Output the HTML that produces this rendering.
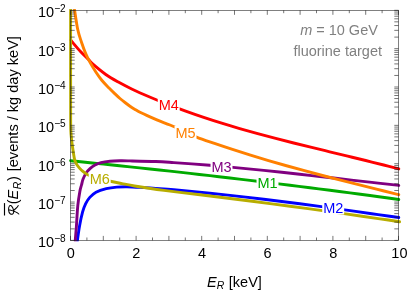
<!DOCTYPE html>
<html><head><meta charset="utf-8"><style>
html,body{margin:0;padding:0;background:#fff;}
body{width:407px;height:290px;overflow:hidden;position:relative;font-family:"Liberation Sans",sans-serif;}
svg text{font-family:"Liberation Sans",sans-serif;}
</style></head><body>
<svg width="407" height="290" viewBox="0 0 407 290" style="position:absolute;left:0;top:0;will-change:transform">
<rect x="0" y="0" width="407" height="290" fill="#ffffff"/>
<path d="M70.60 160.70 C73.83 161.03 83.43 162.03 90.00 162.70 C96.57 163.38 103.33 164.06 110.00 164.75 C116.67 165.44 123.33 166.14 130.00 166.84 C136.67 167.55 143.33 168.26 150.00 168.98 C156.67 169.70 163.33 170.43 170.00 171.16 C176.67 171.90 183.33 172.64 190.00 173.40 C196.67 174.15 203.33 174.91 210.00 175.67 C216.67 176.44 223.33 177.21 230.00 178.00 C236.67 178.78 243.33 179.57 250.00 180.36 C256.67 181.16 263.33 181.97 270.00 182.78 C276.67 183.59 283.33 184.41 290.00 185.24 C296.67 186.07 303.33 186.90 310.00 187.75 C316.67 188.59 323.33 189.44 330.00 190.30 C336.67 191.16 343.33 192.03 350.00 192.90 C356.67 193.77 363.33 194.66 370.00 195.55 C376.67 196.43 385.20 197.58 390.00 198.24 C394.80 198.89 397.33 199.26 398.80 199.46" fill="none" stroke="#00aa00" stroke-width="2.90" stroke-linecap="round" stroke-linejoin="round"/>
<path d="M77.30 241.20 C77.67 238.72 78.62 231.18 79.50 226.30 C80.38 221.42 81.57 215.68 82.60 211.90 C83.63 208.12 84.50 206.02 85.70 203.60 C86.90 201.18 88.08 199.30 89.80 197.40 C91.52 195.50 93.25 193.65 96.00 192.20 C98.75 190.75 102.85 189.55 106.30 188.70 C109.75 187.85 113.25 187.43 116.70 187.10 C120.15 186.77 122.37 186.62 127.00 186.70 C131.63 186.78 139.70 187.33 144.50 187.60 C149.30 187.87 150.92 187.98 155.80 188.35 C160.68 188.72 167.80 189.30 173.80 189.81 C179.80 190.32 185.80 190.87 191.80 191.43 C197.80 191.99 203.80 192.58 209.80 193.19 C215.80 193.81 221.80 194.44 227.80 195.09 C233.80 195.75 239.80 196.42 245.80 197.11 C251.80 197.81 257.80 198.52 263.80 199.25 C269.80 199.97 275.80 200.72 281.80 201.47 C287.80 202.23 293.80 203.01 299.80 203.79 C305.80 204.58 311.80 205.37 317.80 206.18 C323.80 206.99 329.80 207.81 335.80 208.64 C341.80 209.46 347.80 210.30 353.80 211.14 C359.80 211.98 365.80 212.83 371.80 213.69 C377.80 214.54 385.30 215.62 389.80 216.26 C394.30 216.90 397.30 217.34 398.80 217.55" fill="none" stroke="#0000ff" stroke-width="2.90" stroke-linecap="round" stroke-linejoin="round"/>
<path d="M75.20 241.20 C75.40 238.72 75.97 232.22 76.40 226.30 C76.83 220.38 77.22 211.55 77.80 205.70 C78.38 199.85 79.28 194.65 79.90 191.20 C80.52 187.75 80.98 186.98 81.50 185.00 C82.02 183.02 82.25 181.27 83.00 179.30 C83.75 177.33 84.83 174.98 86.00 173.20 C87.17 171.42 88.50 169.97 90.00 168.60 C91.50 167.23 93.17 166.00 95.00 165.00 C96.83 164.00 98.50 163.23 101.00 162.60 C103.50 161.97 106.83 161.50 110.00 161.20 C113.17 160.90 116.67 160.85 120.00 160.80 C123.33 160.75 124.03 160.78 130.00 160.90 C135.97 161.02 148.50 161.25 155.80 161.54 C163.10 161.82 167.80 162.23 173.80 162.62 C179.80 163.01 185.80 163.43 191.80 163.88 C197.80 164.33 203.80 164.81 209.80 165.31 C215.80 165.81 221.80 166.33 227.80 166.88 C233.80 167.42 239.80 167.99 245.80 168.57 C251.80 169.16 257.80 169.76 263.80 170.38 C269.80 170.99 275.80 171.63 281.80 172.27 C287.80 172.91 293.80 173.57 299.80 174.23 C305.80 174.89 311.80 175.57 317.80 176.24 C323.80 176.92 329.80 177.60 335.80 178.29 C341.80 178.97 347.80 179.66 353.80 180.35 C359.80 181.03 365.80 181.72 371.80 182.40 C377.80 183.08 385.30 183.92 389.80 184.43 C394.30 184.93 397.30 185.26 398.80 185.43" fill="none" stroke="#800080" stroke-width="2.90" stroke-linecap="round" stroke-linejoin="round"/>
<path d="M70.90 40.20 C71.12 40.48 70.60 40.02 72.20 41.90 C73.80 43.78 77.73 48.52 80.50 51.50 C83.27 54.48 86.73 57.68 88.80 59.80 C90.87 61.92 90.07 61.75 92.90 64.20 C95.73 66.65 101.48 71.48 105.80 74.50 C110.12 77.52 114.48 79.89 118.80 82.30 C123.12 84.71 126.55 86.51 131.70 88.96 C136.85 91.41 143.70 94.43 149.70 97.00 C155.70 99.57 161.70 102.02 167.70 104.38 C173.70 106.74 179.70 108.99 185.70 111.16 C191.70 113.34 197.70 115.41 203.70 117.42 C209.70 119.43 215.70 121.35 221.70 123.21 C227.70 125.07 233.70 126.86 239.70 128.60 C245.70 130.34 251.70 132.01 257.70 133.65 C263.70 135.29 269.70 136.88 275.70 138.43 C281.70 139.99 287.70 141.51 293.70 143.01 C299.70 144.51 305.70 145.98 311.70 147.44 C317.70 148.91 323.70 150.35 329.70 151.80 C335.70 153.24 341.70 154.68 347.70 156.13 C353.70 157.59 359.70 159.04 365.70 160.52 C371.70 162.01 378.18 163.63 383.70 165.03 C389.22 166.43 396.28 168.29 398.80 168.94" fill="none" stroke="#ff0000" stroke-width="2.90" stroke-linecap="round" stroke-linejoin="round"/>
<path d="M74.50 9.60 C75.05 12.97 76.63 24.37 77.80 29.80 C78.97 35.23 80.18 38.23 81.50 42.20 C82.82 46.17 84.23 50.15 85.70 53.60 C87.17 57.05 88.58 59.80 90.30 62.90 C92.02 66.00 94.05 69.27 96.00 72.20 C97.95 75.13 99.87 77.90 102.00 80.50 C104.13 83.10 106.63 85.57 108.80 87.80 C110.97 90.03 113.13 92.12 115.00 93.90 C116.87 95.68 118.33 97.07 120.00 98.50 C121.67 99.93 123.33 101.22 125.00 102.50 C126.67 103.78 128.33 105.05 130.00 106.20 C131.67 107.35 133.33 108.38 135.00 109.40 C136.67 110.42 137.50 111.05 140.00 112.30 C142.50 113.55 146.67 115.42 150.00 116.90 C153.33 118.38 156.67 119.85 160.00 121.20 C163.33 122.55 165.83 123.28 170.00 125.00 C174.17 126.72 180.58 129.49 185.00 131.50 C189.42 133.51 191.58 135.09 196.50 137.09 C201.42 139.08 208.50 141.40 214.50 143.46 C220.50 145.53 226.50 147.53 232.50 149.48 C238.50 151.43 244.50 153.32 250.50 155.17 C256.50 157.02 262.50 158.82 268.50 160.58 C274.50 162.34 280.50 164.06 286.50 165.74 C292.50 167.43 298.50 169.07 304.50 170.70 C310.50 172.32 316.50 173.91 322.50 175.48 C328.50 177.05 334.50 178.59 340.50 180.12 C346.50 181.65 352.50 183.16 358.50 184.66 C364.50 186.17 370.50 187.66 376.50 189.15 C382.50 190.64 390.78 192.68 394.50 193.60 C398.22 194.52 398.08 194.49 398.80 194.67" fill="none" stroke="#ff8000" stroke-width="2.90" stroke-linecap="round" stroke-linejoin="round"/>
<path d="M70.60 9.20 C70.60 17.67 70.59 43.20 70.60 60.00 C70.61 76.80 70.62 98.33 70.65 110.00 C70.68 121.67 70.64 125.00 70.80 130.00 C70.96 135.00 71.23 136.67 71.60 140.00 C71.97 143.33 72.45 146.55 73.00 150.00 C73.55 153.45 74.07 157.98 74.90 160.70 C75.73 163.42 76.93 164.75 78.00 166.30 C79.07 167.85 79.67 168.60 81.30 170.00 C82.93 171.40 84.85 173.27 87.80 174.70 C90.75 176.13 95.03 177.47 99.00 178.60 C102.97 179.73 107.77 180.67 111.60 181.50 C115.43 182.33 118.18 182.85 122.00 183.60 C125.82 184.35 130.00 185.22 134.50 186.00 C139.00 186.78 144.08 187.57 149.00 188.30 C153.92 189.03 158.50 189.69 164.00 190.41 C169.50 191.12 176.00 191.84 182.00 192.57 C188.00 193.29 194.00 194.02 200.00 194.76 C206.00 195.49 212.00 196.23 218.00 196.98 C224.00 197.72 230.00 198.47 236.00 199.23 C242.00 199.99 248.00 200.75 254.00 201.52 C260.00 202.29 266.00 203.06 272.00 203.85 C278.00 204.63 284.00 205.42 290.00 206.22 C296.00 207.02 302.00 207.82 308.00 208.63 C314.00 209.45 320.00 210.27 326.00 211.10 C332.00 211.93 338.00 212.77 344.00 213.62 C350.00 214.46 356.00 215.32 362.00 216.19 C368.00 217.06 374.00 217.93 380.00 218.82 C386.00 219.71 394.87 221.04 398.00 221.51 C401.13 221.98 398.67 221.61 398.80 221.63" fill="none" stroke="#b8ad00" stroke-width="2.90" stroke-linecap="round" stroke-linejoin="round"/>
<rect x="256.53" y="175.60" width="21.94" height="13.50" fill="#ffffff"/>
<text transform="translate(267.50 187.60) scale(1 1.04)" text-anchor="middle" font-size="14.50" fill="#00aa00">M1</text>
<rect x="322.23" y="201.00" width="21.94" height="13.50" fill="#ffffff"/>
<text transform="translate(333.20 213.00) scale(1 1.04)" text-anchor="middle" font-size="14.50" fill="#0000ff">M2</text>
<rect x="210.53" y="160.00" width="21.94" height="13.50" fill="#ffffff"/>
<text transform="translate(221.50 172.00) scale(1 1.04)" text-anchor="middle" font-size="14.50" fill="#800080">M3</text>
<rect x="157.73" y="97.90" width="21.94" height="13.50" fill="#ffffff"/>
<text transform="translate(168.70 109.90) scale(1 1.04)" text-anchor="middle" font-size="14.50" fill="#ff0000">M4</text>
<rect x="174.53" y="126.00" width="21.94" height="13.50" fill="#ffffff"/>
<text transform="translate(185.50 138.00) scale(1 1.04)" text-anchor="middle" font-size="14.50" fill="#ff8000">M5</text>
<rect x="88.73" y="172.00" width="21.94" height="13.50" fill="#ffffff"/>
<text transform="translate(99.70 184.00) scale(1 1.04)" text-anchor="middle" font-size="14.50" fill="#b8ad00">M6</text>
<rect x="0" y="241.30" width="407" height="60" fill="#fff"/>
<rect x="0" y="0" width="407" height="9.10" fill="#fff"/>
<rect x="70.50" y="10.30" width="328.00" height="230.10" fill="none" stroke="#1a1a1a" stroke-width="0.55"/>
<path d="M70.50 240.40v-4.50 M70.50 10.30v4.50 M86.90 240.40v-2.90 M86.90 10.30v2.90 M103.30 240.40v-4.50 M103.30 10.30v4.50 M119.70 240.40v-2.90 M119.70 10.30v2.90 M136.10 240.40v-4.50 M136.10 10.30v4.50 M152.50 240.40v-2.90 M152.50 10.30v2.90 M168.90 240.40v-4.50 M168.90 10.30v4.50 M185.30 240.40v-2.90 M185.30 10.30v2.90 M201.70 240.40v-4.50 M201.70 10.30v4.50 M218.10 240.40v-2.90 M218.10 10.30v2.90 M234.50 240.40v-4.50 M234.50 10.30v4.50 M250.90 240.40v-2.90 M250.90 10.30v2.90 M267.30 240.40v-4.50 M267.30 10.30v4.50 M283.70 240.40v-2.90 M283.70 10.30v2.90 M300.10 240.40v-4.50 M300.10 10.30v4.50 M316.50 240.40v-2.90 M316.50 10.30v2.90 M332.90 240.40v-4.50 M332.90 10.30v4.50 M349.30 240.40v-2.90 M349.30 10.30v2.90 M365.70 240.40v-4.50 M365.70 10.30v4.50 M382.10 240.40v-2.90 M382.10 10.30v2.90 M398.50 240.40v-4.50 M398.50 10.30v4.50" stroke="#1a1a1a" stroke-width="0.6" fill="none"/>
<path d="M70.50 10.30h4.2 M398.50 10.30h-4.2 M70.50 48.65h4.2 M398.50 48.65h-4.2 M70.50 87.00h4.2 M398.50 87.00h-4.2 M70.50 125.35h4.2 M398.50 125.35h-4.2 M70.50 163.70h4.2 M398.50 163.70h-4.2 M70.50 202.05h4.2 M398.50 202.05h-4.2 M70.50 240.40h4.2 M398.50 240.40h-4.2" stroke="#1a1a1a" stroke-width="0.6" fill="none"/>
<path d="M70.50 37.11h4.2 M398.50 37.11h-4.2 M70.50 30.35h4.2 M398.50 30.35h-4.2 M70.50 25.56h4.2 M398.50 25.56h-4.2 M70.50 21.84h4.2 M398.50 21.84h-4.2 M70.50 18.81h4.2 M398.50 18.81h-4.2 M70.50 16.24h4.2 M398.50 16.24h-4.2 M70.50 14.02h4.2 M398.50 14.02h-4.2 M70.50 12.05h4.2 M398.50 12.05h-4.2 M70.50 75.46h4.2 M398.50 75.46h-4.2 M70.50 68.70h4.2 M398.50 68.70h-4.2 M70.50 63.91h4.2 M398.50 63.91h-4.2 M70.50 60.19h4.2 M398.50 60.19h-4.2 M70.50 57.16h4.2 M398.50 57.16h-4.2 M70.50 54.59h4.2 M398.50 54.59h-4.2 M70.50 52.37h4.2 M398.50 52.37h-4.2 M70.50 50.40h4.2 M398.50 50.40h-4.2 M70.50 113.81h4.2 M398.50 113.81h-4.2 M70.50 107.05h4.2 M398.50 107.05h-4.2 M70.50 102.26h4.2 M398.50 102.26h-4.2 M70.50 98.54h4.2 M398.50 98.54h-4.2 M70.50 95.51h4.2 M398.50 95.51h-4.2 M70.50 92.94h4.2 M398.50 92.94h-4.2 M70.50 90.72h4.2 M398.50 90.72h-4.2 M70.50 88.75h4.2 M398.50 88.75h-4.2 M70.50 152.16h4.2 M398.50 152.16h-4.2 M70.50 145.40h4.2 M398.50 145.40h-4.2 M70.50 140.61h4.2 M398.50 140.61h-4.2 M70.50 136.89h4.2 M398.50 136.89h-4.2 M70.50 133.86h4.2 M398.50 133.86h-4.2 M70.50 131.29h4.2 M398.50 131.29h-4.2 M70.50 129.07h4.2 M398.50 129.07h-4.2 M70.50 127.10h4.2 M398.50 127.10h-4.2 M70.50 190.51h4.2 M398.50 190.51h-4.2 M70.50 183.75h4.2 M398.50 183.75h-4.2 M70.50 178.96h4.2 M398.50 178.96h-4.2 M70.50 175.24h4.2 M398.50 175.24h-4.2 M70.50 172.21h4.2 M398.50 172.21h-4.2 M70.50 169.64h4.2 M398.50 169.64h-4.2 M70.50 167.42h4.2 M398.50 167.42h-4.2 M70.50 165.45h4.2 M398.50 165.45h-4.2 M70.50 228.86h4.2 M398.50 228.86h-4.2 M70.50 222.10h4.2 M398.50 222.10h-4.2 M70.50 217.31h4.2 M398.50 217.31h-4.2 M70.50 213.59h4.2 M398.50 213.59h-4.2 M70.50 210.56h4.2 M398.50 210.56h-4.2 M70.50 207.99h4.2 M398.50 207.99h-4.2 M70.50 205.77h4.2 M398.50 205.77h-4.2 M70.50 203.80h4.2 M398.50 203.80h-4.2" stroke="#1a1a1a" stroke-width="0.6" fill="none"/>
<text transform="translate(70.80 258.40) scale(1 1.04)" text-anchor="middle" font-size="14.50" fill="#000">0</text>
<text transform="translate(136.40 258.40) scale(1 1.04)" text-anchor="middle" font-size="14.50" fill="#000">2</text>
<text transform="translate(202.00 258.40) scale(1 1.04)" text-anchor="middle" font-size="14.50" fill="#000">4</text>
<text transform="translate(267.60 258.40) scale(1 1.04)" text-anchor="middle" font-size="14.50" fill="#000">6</text>
<text transform="translate(333.20 258.40) scale(1 1.04)" text-anchor="middle" font-size="14.50" fill="#000">8</text>
<text transform="translate(399.40 258.40) scale(1 1.04)" text-anchor="middle" font-size="14.50" fill="#000">10</text>
<text transform="translate(37.90 17.20) scale(1 1.04)" font-size="14.50" fill="#000">10<tspan dy="-4.8" dx="0.2" font-size="10.1">−2</tspan></text>
<text transform="translate(37.90 55.55) scale(1 1.04)" font-size="14.50" fill="#000">10<tspan dy="-4.8" dx="0.2" font-size="10.1">−3</tspan></text>
<text transform="translate(37.90 93.90) scale(1 1.04)" font-size="14.50" fill="#000">10<tspan dy="-4.8" dx="0.2" font-size="10.1">−4</tspan></text>
<text transform="translate(37.90 132.25) scale(1 1.04)" font-size="14.50" fill="#000">10<tspan dy="-4.8" dx="0.2" font-size="10.1">−5</tspan></text>
<text transform="translate(37.90 170.60) scale(1 1.04)" font-size="14.50" fill="#000">10<tspan dy="-4.8" dx="0.2" font-size="10.1">−6</tspan></text>
<text transform="translate(37.90 208.95) scale(1 1.04)" font-size="14.50" fill="#000">10<tspan dy="-4.8" dx="0.2" font-size="10.1">−7</tspan></text>
<text transform="translate(37.90 247.30) scale(1 1.04)" font-size="14.50" fill="#000">10<tspan dy="-4.8" dx="0.2" font-size="10.1">−8</tspan></text>
<text transform="translate(207.10 286.70) scale(1 1.04)" font-size="14.50" fill="#000"><tspan font-style="italic">E</tspan><tspan font-style="italic" font-size="10.4" dy="2.2">R</tspan><tspan dy="-2.2" dx="0.5"> [keV]</tspan></text>
<g transform="translate(7.9,215.2) rotate(-90)"><path d="M4.4 5.7C1.6 6.3 0.2 4.2 1.4 2.3C2.7 0.4 7.4 0.2 9.2 1.5C10.8 2.8 8 5.2 4.4 5.7C6 6.4 7.3 9.6 9.6 10.3M5.3 1.3C4.6 4 3.6 8.6 1.2 10.9" fill="none" stroke="#000" stroke-width="1.05" stroke-linecap="round" stroke-linejoin="round"/><path d="M-0.3 -3.4H12.1" stroke="#000" stroke-width="1.15"/></g>
<g transform="translate(18.4,0) rotate(-90)"><text transform="translate(-204.30 0.00) scale(1 1.04)" font-size="14.58" fill="#000">(<tspan font-style="italic">E</tspan><tspan font-style="italic" font-size="10.4" dy="2.4" dx="0.4">R</tspan><tspan dy="-2.4" dx="0.8">)</tspan></text><text transform="translate(-171.30 0.00) scale(1 1.04)" font-size="14.58" fill="#000">[events / kg day keV]</text></g>
<text transform="translate(339.00 35.00) scale(1 1.04)" text-anchor="middle" font-size="14.50" fill="#808080"><tspan font-style="italic">m</tspan> = 10 GeV</text>
<text transform="translate(337.70 56.00) scale(1 1.04)" text-anchor="middle" font-size="14.50" fill="#808080">fluorine target</text>
</svg>
</body></html>
